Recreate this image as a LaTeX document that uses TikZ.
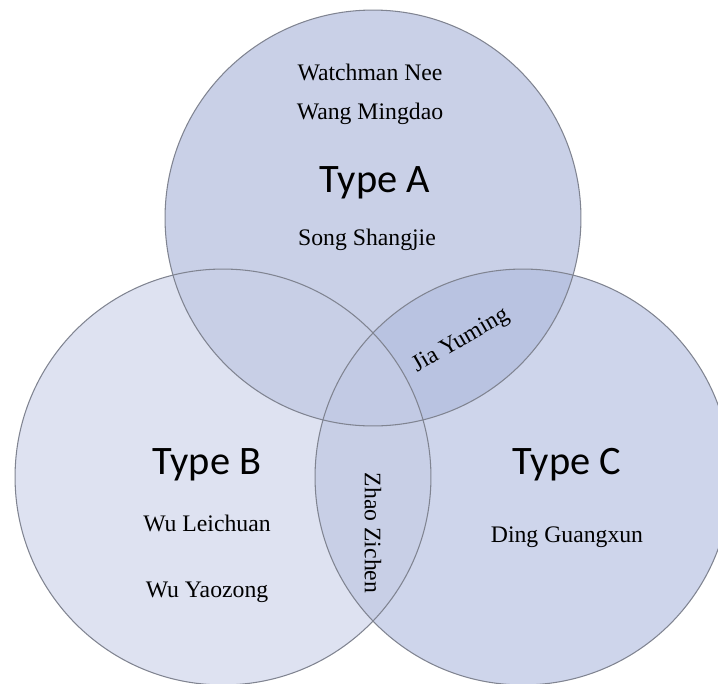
\documentclass[tikz,border=0pt]{standalone}
\usepackage{fontspec}
\usepackage{tikz}
\newfontfamily\namefont{Liberation Serif}
\newfontfamily\titlefont{Carlito}
\definecolor{setline}{RGB}{128,132,145}
\definecolor{onlyA}{RGB}{201,208,231}
\definecolor{onlyB}{RGB}{222,226,241}
\definecolor{onlyC}{RGB}{206,213,235}
\definecolor{capAB}{RGB}{200,207,230}
\definecolor{capAC}{RGB}{185,195,225}
\definecolor{capBC}{RGB}{200,207,230}
\definecolor{capABC}{RGB}{194,202,228}

\begin{document}
\begin{tikzpicture}[
        x=0.02cm, y=-0.02cm,
        set/.style={circle, draw=setline, line width=0.6pt, minimum size=8.32cm, inner sep=0pt},
        member/.style={font=\namefont\fontsize{13.5}{16}\selectfont},
        kind/.style={font=\titlefont\fontsize{23}{28}\selectfont}
    ]
        \useasboundingbox (0,0) rectangle (718,684);

        % Centres
        \coordinate (ca) at (373,218);
        \coordinate (cb) at (223,477);
        \coordinate (cc) at (523,477);

        % Fills
        \fill[onlyB] (cb) circle[radius=4.16cm];
        \fill[onlyC] (cc) circle[radius=4.16cm];
        \fill[onlyA] (ca) circle[radius=4.16cm];
        \begin{scope}
            \clip (ca) circle[radius=4.16cm];
            \fill[capAB] (cb) circle[radius=4.16cm];
            \fill[capAC] (cc) circle[radius=4.16cm];
        \end{scope}
        \begin{scope}
            \clip (cb) circle[radius=4.16cm];
            \fill[capBC] (cc) circle[radius=4.16cm];
            \clip (cc) circle[radius=4.16cm];
            \fill[capABC] (ca) circle[radius=4.16cm];
        \end{scope}

        % Sets
        \node[set] (A) at (ca) {};
        \node[set] (B) at (cb) {};
        \node[set] (C) at (cc) {};

        % Labels
        \node[member] (nee) at (370,72) {Watchman Nee};
        \node[member] (wang) at (370,114) {Wang Mingdao};
        \node[kind] (typeA) at (375,183) {Type A};
        \node[member] (song) at (367,240) {Song Shangjie};
        \node[member, rotate=30] (jia) at (461,341) {Jia Yuming};
        \node[member, rotate=-90] (zhao) at (373,533) {Zhao Zichen};
        \node[kind] (typeB) at (207,465) {Type B};
        \node[member] (wul) at (207,523) {Wu Leichuan};
        \node[member] (wuy) at (207,592) {Wu Yaozong};
        \node[kind] (typeC) at (567,465) {Type C};
        \node[member] (ding) at (567,537) {Ding Guangxun};

    \end{tikzpicture}
\end{document}
